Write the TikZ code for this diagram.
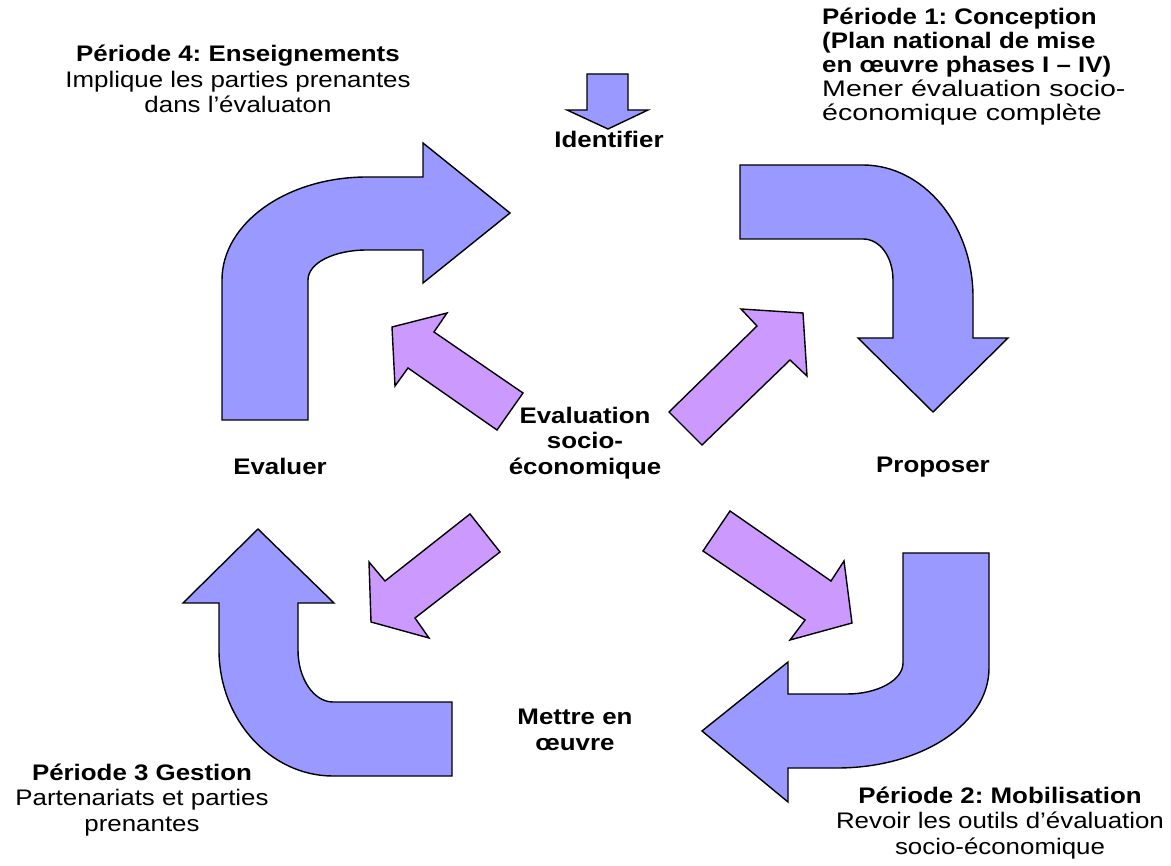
\documentclass[tikz,border=0pt]{standalone}
\usepackage{fontspec}
\setmainfont[FakeStretch=1.15]{Liberation Sans}
\newfontfamily\widefont[FakeStretch=1.27]{Liberation Sans}
\frenchspacing
\definecolor{blueA}{HTML}{9999FF}
\definecolor{purpA}{HTML}{CC99FF}
\tikzset{
  bigarrow/.style={draw=black, fill=blueA, line width=1.4pt, line join=miter},
  smallarrow/.style={draw=black, fill=purpA, line width=1.4pt, line join=miter},
  txt/.style={inner sep=0pt, font=\fontsize{22.5}{25.5}\selectfont},
  lbl/.style={txt, font=\fontsize{22.5}{25.5}\selectfont\bfseries}
}
\begin{document}
\begin{tikzpicture}[x=1pt,y=-1pt]
\useasboundingbox (0,0) rectangle (1171,866);
% Periode 4 arrow (top-left, pointing right)
\draw[bigarrow] (222,420) -- (222,280) .. controls (222,223) and (287,177) .. (367,177)
  -- (423,177) -- (423,143) -- (510,213) -- (423,283) -- (423,250) -- (367,250)
  .. controls (334,250) and (308,263) .. (308,280) -- (308,420) -- cycle;
% Periode 1 arrow (top-right, pointing down)
\draw[bigarrow] (740,165) -- (863,165) .. controls (923,165) and (973,224) .. (973,297)
  -- (973,338) -- (1008,338) -- (933,412) -- (858,338) -- (893,338) -- (893,280)
  .. controls (893,257) and (880,239) .. (863,239) -- (740,239) -- cycle;
% Periode 2 arrow (bottom-right, pointing left)
\draw[bigarrow] (903,553) -- (989,553) -- (989,668) .. controls (989,724) and (921,768) .. (837,768)
  -- (788,768) -- (788,802) -- (702,731) -- (788,662) -- (788,694) -- (847,694)
  .. controls (878,694) and (903,680) .. (903,663) -- cycle;
% Periode 3 arrow (bottom-left, pointing up)
\draw[bigarrow] (258,529) -- (334,603) -- (298,603) -- (298,650)
  .. controls (298,679) and (314,702) .. (333,702) -- (452,702) -- (452,776) -- (333,776)
  .. controls (270,776) and (219,719) .. (219,650) -- (219,603) -- (183,603) -- cycle;
% small top arrow
\draw[bigarrow] (587,74) -- (628,74) -- (628,110) -- (648,110) -- (608,129) -- (567,110) -- (587,110) -- cycle;
% purple arrows
\draw[smallarrow] (392,327) -- (447,313) -- (434,332) -- (523,393) -- (497,430) -- (408,368) -- (395,386) -- cycle;
\draw[smallarrow] (803,313) -- (807,376) -- (790,360) -- (702,445) -- (669,412) -- (757,326) -- (741,309) -- cycle;
\draw[smallarrow] (470,514) -- (500,552) -- (415,618) -- (429,638) -- (371,622) -- (369,562) -- (385,581) -- cycle;
\draw[smallarrow] (730,511) -- (831,581) -- (844,561) -- (852,623) -- (790,640) -- (805,620) -- (703,551) -- cycle;
% texts
\node[txt, align=center] (p4) at (238,79) {\textbf{Période 4: Enseignements}\\Implique les parties prenantes\\dans l’évaluaton};
\node[txt, align=left, anchor=west, font=\fontsize{22.5}{24}\selectfont] (p1) at (822,67) {\textbf{Période 1: Conception}\\\textbf{(Plan national de mise}\\\textbf{en œuvre phases I – IV)}\\{\widefont Mener évaluation socio-}\\{\widefont économique complète}};
\node[txt, align=center] (p3) at (142,800) {\textbf{Période 3 Gestion}\\Partenariats et parties\\prenantes};
\node[txt, align=center] (p2) at (1000,823) {\textbf{Période 2: Mobilisation}\\Revoir les outils d’évaluation\\socio-économique};
\node[lbl] (ident) at (609,139) {Identifier};
\node[lbl] (prop) at (933,467) {Proposer};
\node[lbl] (eval) at (280,466) {Evaluer};
\node[lbl, align=center] (centre) at (585,443) {Evaluation\\socio-\\économique};
\node[lbl, align=center] (mettre) at (575,730) {Mettre en\\œuvre};
\end{tikzpicture}
\end{document}
